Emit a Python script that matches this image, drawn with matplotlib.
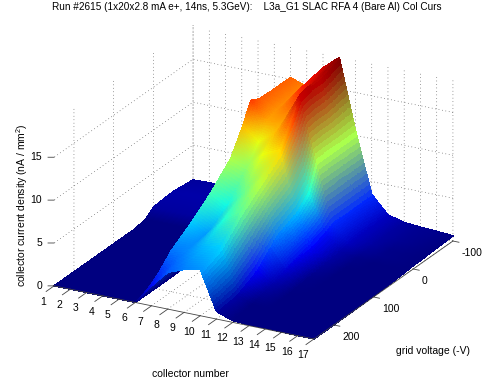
import numpy as np
import matplotlib
matplotlib.use('Agg')
import matplotlib.pyplot as plt
from mpl_toolkits.mplot3d import proj3d

plt.rcParams['font.family'] = ['Liberation Sans', 'DejaVu Sans']
plt.rcParams['mathtext.default'] = 'regular'
plt.rcParams['axes.unicode_minus'] = False

collectors = np.arange(1, 18)
voltages = [-100, -50, -20, 0, 20, 50, 100, 150, 200, 250]

# one row per voltage, one column per collector
z_m100 = [0.93, 1.0, 1.0, 1.2, 1.5, 2.5, 15.2, 14.5, 17.1, 18.7, 10.6, 3.5, 1.5, 1.0, 0.85, 0.75, 0.6]
z_m50 = [1.2, 1.2, 1.2, 1.2, 1.3, 2.0, 15.2, 14.4, 16.6, 17.8, 10.6, 3.5, 1.5, 1.0, 0.8, 0.7, 0.5]
z_m20 = [1.1, 1.1, 1.1, 1.1, 1.2, 1.6, 15.3, 14.2, 14.8, 17.8, 10.6, 3.5, 1.5, 1.0, 0.7, 0.6, 0.4]
z_0 = [1.0, 1.0, 1.0, 1.0, 1.0, 1.3, 15.8, 13.9, 14.0, 17.5, 10.6, 3.5, 1.5, 0.9, 0.7, 0.6, 0.4]
z_20 = [0.2, 0.2, 0.2, 0.2, 0.3, 0.5, 13.5, 12.0, 13.4, 15.5, 7.5, 3.0, 1.2, 0.7, 0.5, 0.4, 0.3]
z_50 = [0.0, 0.0, 0.0, 0.1, 0.1, 0.2, 10.7, 10.0, 12.0, 12.8, 6.0, 2.5, 1.0, 0.5, 0.4, 0.3, 0.2]
z_100 = [0.0, 0.0, 0.0, 0.0, 0.0, 0.1, 8.3, 7.2, 9.0, 10.9, 4.9, 2.0, 0.7, 0.4, 0.3, 0.2, 0.1]
z_150 = [0.0, 0.0, 0.0, 0.0, 0.0, 0.0, 6.4, 5.5, 7.5, 9.0, 2.5, 1.2, 0.4, 0.3, 0.2, 0.1, 0.05]
z_200 = [0.0, 0.0, 0.0, 0.0, 0.0, 0.0, 4.8, 5.2, 6.0, 6.5, 1.2, 0.5, 0.2, 0.1, 0.1, 0.05, 0.0]
z_250 = [0.0, 0.0, 0.0, 0.0, 0.0, 0.0, 2.3, 4.3, 5.0, 5.4, 0.9, 0.2, 0.1, 0.1, 0.05, 0.0, 0.0]

Z = np.array([z_m100, z_m50, z_m20, z_0, z_20, z_50, z_100, z_150, z_200, z_250])

x_ticks = list(range(1, 18))
y_ticks = [-100, 0, 100, 200]
z_ticks = [0, 5, 10, 15]

title = 'Run #2615 (1x20x2.8 mA e+, 14ns, 5.3GeV):    L3a_G1 SLAC RFA 4 (Bare Al) Col Curs'


def refine(a, n):
    # split each cell into n x n, same as matlab interp shading
    rows, cols = a.shape[:2]
    r = np.linspace(0, rows - 1, (rows - 1) * n + 1)
    c = np.linspace(0, cols - 1, (cols - 1) * n + 1)
    r0 = np.minimum(r.astype(int), rows - 2)
    c0 = np.minimum(c.astype(int), cols - 2)
    fr = (r - r0).reshape(-1, 1)
    fc = (c - c0).reshape(1, -1)
    if a.ndim == 3:
        fr = fr[..., None]
        fc = fc[..., None]
    top = a[r0][:, c0] * (1 - fc) + a[r0][:, c0 + 1] * fc
    bot = a[r0 + 1][:, c0] * (1 - fc) + a[r0 + 1][:, c0 + 1] * fc
    return top * (1 - fr) + bot * fr


# the y axis runs on -V so that the ticks point outwards, labels are put back to V
X, Y = np.meshgrid(collectors, -np.array(voltages))
rgb = plt.cm.jet(np.clip((Z - 0.5) / (Z.max() - 0.5), 0, 1))[:, :, :3]
n = 12
X2 = refine(X.astype(float), n)
Y2 = refine(Y.astype(float), n)
Z2 = refine(Z, n)
rgb2 = refine(rgb, n)

fig = plt.figure(figsize=(4.84, 3.86), dpi=100)
ax = fig.add_axes([-3.25 / 484, -52.75 / 386, 500 / 484, 500 / 386], projection='3d', proj_type='ortho',
                  computed_zorder=False)
ax.patch.set_alpha(0)
ax.view_init(elev=22.3, azim=-61.7)
ax.set_box_aspect((295, 293, 176), zoom=0.877)

ax.plot_surface(X2, Y2, Z2, facecolors=rgb2, rcount=X2.shape[0], ccount=X2.shape[1],
                shade=False, linewidth=0.3, antialiased=False, zorder=1)

ax.set_xlim(1, 17)
ax.set_ylim(-250, 100)
ax.set_zlim(0, 19)
ax.set_xticks(x_ticks)
ax.set_yticks([-v for v in y_ticks])
ax.set_yticklabels([str(v) for v in y_ticks])
ax.set_zticks(z_ticks)
ax.set_zticklabels([])
ax.tick_params(labelsize=7.5, length=0)
ax.tick_params(axis='x', pad=7)
ax.tick_params(axis='y', pad=-2)
ax.zaxis.set_tick_params(label1On=False, label2On=False)

# the axis lines and ticks of mplot3d stay under the surface, so draw them on top
line_kw = dict(color='#444444', lw=0.6, zorder=3)
ax.plot([1, 17], [-250, -250], [0, 0], **line_kw)
ax.plot([17, 17], [-250, 100], [0, 0], **line_kw)
for c in x_ticks:
    ax.plot([c, c], [-250, -270], [0, 0], **line_kw)
for v in y_ticks:
    ax.plot([17, 17.37], [-v, -v], [0, 0], **line_kw)

# z ticks sit on the left corner, mplot3d would put them on the right
for z in z_ticks:
    ax.plot([1, 0.71], [-250, -253.4], [z, z], **line_kw)
    px, py, _ = proj3d.proj_transform(0.42, -257, z, ax.get_proj())
    ax.text2D(px, py, str(z), ha='right', va='center', fontsize=7.5, transform=ax.transData)

for axis in (ax.xaxis, ax.yaxis, ax.zaxis):
    axis.pane.set_visible(False)
    axis.line.set_visible(False)
    axis._axinfo['grid'].update(color='#444444', linewidth=0.5, linestyle=(0, (1, 4)))
    axis._axinfo['tick'].update(inward_factor=0, outward_factor=0, linewidth={True: 0, False: 0})

for t in ax.get_xticklabels():
    t.set_va('bottom')
for t in ax.get_yticklabels():
    t.set_va('top')
    t.set_ha('left')

fig.text(247 / 484, 1 - 7 / 386, title, ha='center', va='center', fontsize=7.22)
fig.text(190 / 484, 1 - 374 / 386, 'collector number', ha='center', va='center', fontsize=7.5)
fig.text(433 / 484, 1 - 351 / 386, 'grid voltage (-V)', ha='center', va='center', fontsize=7.5)
fig.text(22 / 484, 1 - 205 / 386, 'collector current density (nA / mm$^2$)', ha='center', va='center',
         rotation=90, fontsize=7.5)

fig.savefig('out.png', dpi=100)
